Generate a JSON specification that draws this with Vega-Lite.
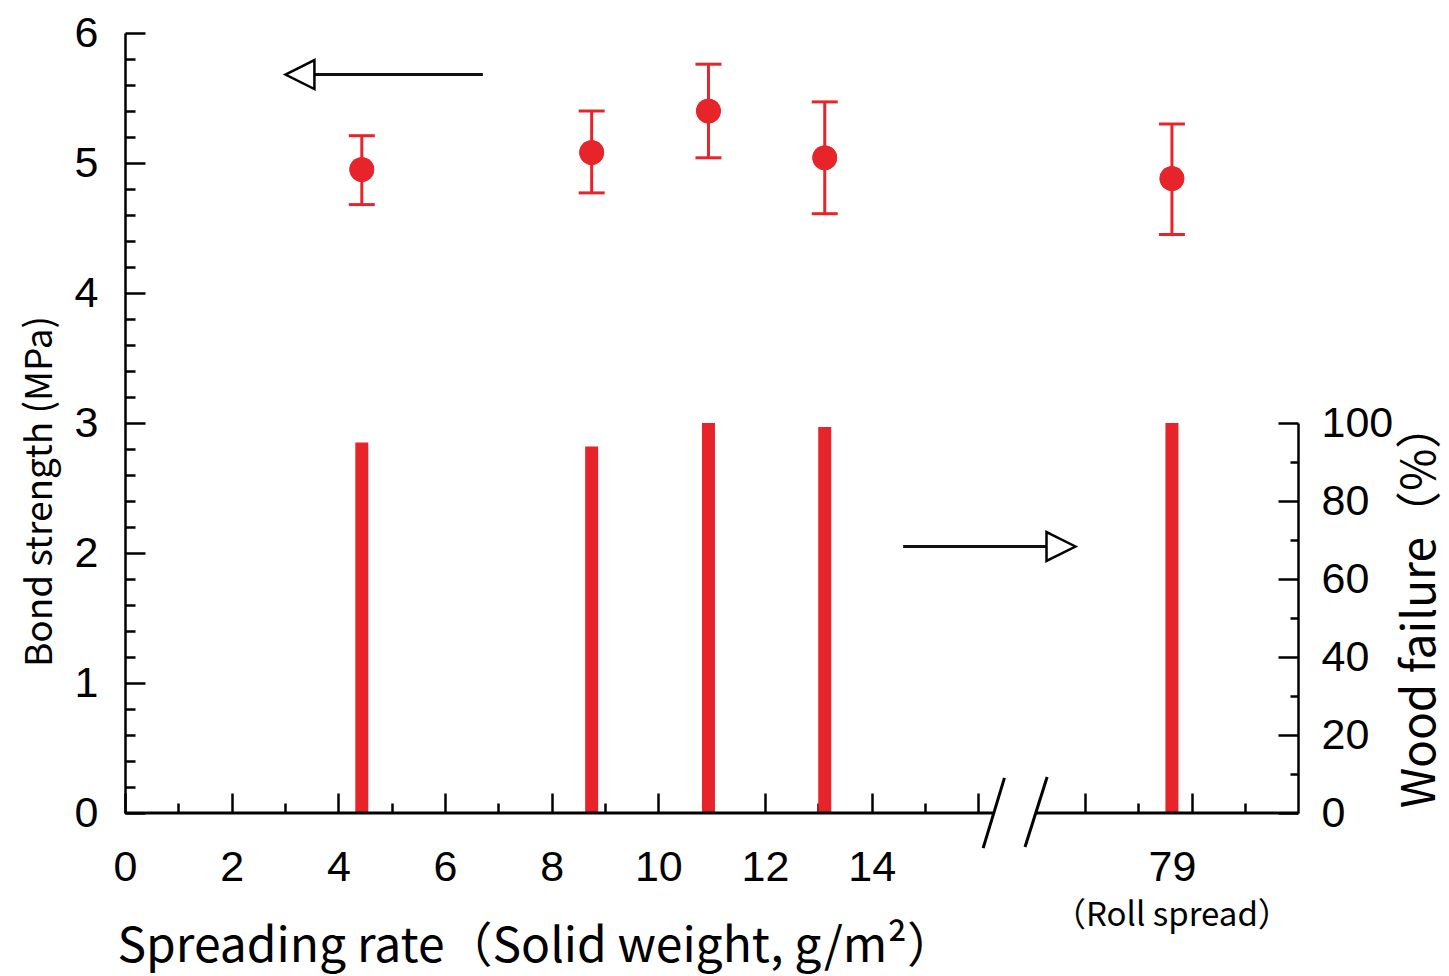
{
  "$schema": "https://vega.github.io/schema/vega-lite/v6.json",
  "autosize": {"type": "none"},
  "padding": {"left": 125, "top": 33, "right": 151, "bottom": 163},
  "width": 1173,
  "height": 780,
  "background": "white",
  "config": {"view": {"stroke": null}},
  "datasets": {
    "main": [
      {"rate": 4.44, "mean": 4.95, "lo": 4.68, "hi": 5.21, "wood": 95},
      {"rate": 8.75, "mean": 5.08, "lo": 4.77, "hi": 5.40, "wood": 94},
      {"rate": 10.94, "mean": 5.40, "lo": 5.04, "hi": 5.76, "wood": 100},
      {"rate": 13.12, "mean": 5.04, "lo": 4.61, "hi": 5.47, "wood": 99},
      {"rate": 79, "mean": 4.88, "lo": 4.45, "hi": 5.30, "wood": 100}
    ],
    "segments": [
      {"rate": 0, "rate_end": 16.29, "mpa": 0, "mpa_end": 0},
      {"rate": 76.43, "rate_end": 81.37, "mpa": 0, "mpa_end": 0},
      {"rate": 16.09, "rate_end": 16.49, "mpa": -0.27, "mpa_end": 0.27},
      {"rate": 16.875, "rate_end": 76.66, "mpa": -0.262, "mpa_end": 0.277}
    ],
    "arrowLines": [
      {"rate": 6.71, "rate_end": 3.56, "mpa": 5.68},
      {"rate": 14.59, "rate_end": 76.66, "mpa": 2.05}
    ],
    "arrowHeads": [
      {"rate": 3.28, "mpa": 5.68, "dir": "left"},
      {"rate": 76.92, "mpa": 2.05, "dir": "right"}
    ],
    "notes": [
      {"rate": 79, "mpa": -0.79, "text": "（Roll spread）"}
    ]
  },
  "encoding": {
    "x": {
      "field": "rate",
      "type": "quantitative",
      "scale": {"domain": [0, 17, 76.37, 81.37], "range": [0, 906.67, 906.67, 1173.33], "nice": false, "zero": false, "padding": 0},
      "axis": {
        "values": [0, 1, 2, 3, 4, 5, 6, 7, 8, 9, 10, 11, 12, 13, 14, 15, 16, 77.37, 78.37, 79, 79.37, 80.37],
        "domain": false,
        "grid": false,
        "ticks": true,
        "tickColor": "#000000",
        "tickWidth": 2.5,
        "tickSize": {"condition": {"test": "(datum.value <= 16 ? (datum.value % 2 == 0) : (datum.value == 77.37 || datum.value == 79 || datum.value == 79.37))", "value": -20}, "value": -10},
        "tickOpacity": {"condition": {"test": "(datum.value == 79)", "value": 0}, "value": 1},
        "labelExpr": "datum.value == 79 ? '79' : (datum.value <= 14 && datum.value % 2 == 0 ? datum.label : '')",
        "labelFont": "Liberation Sans",
        "labelFontSize": 43,
        "labelColor": "#000000",
        "labelPadding": 53,
        "labelOverlap": false,
        "labelFlush": false,
        "labelBound": false,
        "title": "Spreading rate（Solid weight, g/m²）",
        "titleFont": "Noto Sans CJK JP",
        "titleFontSize": 48,
        "titleFontWeight": "normal",
        "titleColor": "#000000",
        "titleAnchor": "start",
        "titleAlign": "left",
        "titleBaseline": "alphabetic",
        "titleX": -8,
        "titleY": 148
      }
    }
  },
  "layer": [
    {
      "data": {"name": "main"},
      "mark": {"type": "bar", "orient": "vertical", "size": 13, "color": "#e8242b"},
      "encoding": {
        "y": {
          "field": "wood",
          "type": "quantitative",
          "scale": {"domain": [0, 100], "range": [780, 390], "nice": false},
          "axis": {
            "orient": "right",
            "values": [0, 10, 20, 30, 40, 50, 60, 70, 80, 90, 100],
            "domain": true,
            "domainColor": "#000000",
            "domainWidth": 2.5,
            "grid": false,
            "tickColor": "#000000",
            "tickWidth": 2.5,
            "tickSize": {"condition": {"test": "(datum.value % 20 == 0)", "value": -20}, "value": -8},
            "labelExpr": "datum.value % 20 == 0 ? datum.label : ''",
            "labelFont": "Liberation Sans",
            "labelFontSize": 43,
            "labelColor": "#000000",
            "labelPadding": 43,
            "labelOverlap": false,
            "labelFlush": false,
            "labelBound": false,
            "title": "Wood failure（%）",
            "titleFont": "Noto Sans CJK JP",
            "titleFontSize": 46,
            "titleFontWeight": "normal",
            "titleColor": "#000000",
            "titleAngle": 270,
            "titleAlign": "center",
            "titleBaseline": "middle",
            "titleX": 122,
            "titleY": 572
          }
        },
        "y2": {"datum": 0}
      }
    },
    {
      "data": {"name": "main"},
      "mark": {"type": "circle", "color": "#e8242b", "size": 610, "opacity": 1},
      "encoding": {
        "y": {
          "field": "mean",
          "type": "quantitative",
          "scale": {"domain": [0, 6], "nice": false},
          "axis": {
            "orient": "left",
            "values": [0, 0.2, 0.4, 0.6, 0.8, 1, 1.2, 1.4, 1.6, 1.8, 2, 2.2, 2.4, 2.6, 2.8, 3, 3.2, 3.4, 3.6, 3.8, 4, 4.2, 4.4, 4.6, 4.8, 5, 5.2, 5.4, 5.6, 5.8, 6],
            "domain": true,
            "domainColor": "#000000",
            "domainWidth": 2.5,
            "grid": false,
            "tickColor": "#000000",
            "tickWidth": 2.5,
            "tickSize": {"condition": {"test": "(abs(datum.value - round(datum.value)) < 0.001)", "value": -20}, "value": -10},
            "labelExpr": "abs(datum.value - round(datum.value)) < 0.001 ? format(datum.value, 'd') : ''",
            "labelFont": "Liberation Sans",
            "labelFontSize": 43,
            "labelColor": "#000000",
            "labelPadding": 47,
            "labelOverlap": false,
            "labelFlush": false,
            "labelBound": false,
            "title": "Bond strength (MPa)",
            "titleFont": "Noto Sans CJK JP",
            "titleFontSize": 37,
            "titleFontWeight": "normal",
            "titleColor": "#000000",
            "titleAngle": 270,
            "titleAlign": "center",
            "titleBaseline": "middle",
            "titleX": -85,
            "titleY": 458
          }
        }
      }
    },
    {
      "data": {"name": "segments"},
      "mark": {"type": "rule", "color": "#000000", "strokeWidth": 3},
      "encoding": {
        "x2": {"field": "rate_end"},
        "y": {"field": "mpa", "type": "quantitative", "scale": {"domain": [0, 6], "nice": false}, "axis": null},
        "y2": {"field": "mpa_end"}
      }
    },
    {
      "data": {"name": "main"},
      "mark": {"type": "rule", "color": "#e8242b", "strokeWidth": 3},
      "encoding": {
        "y": {"field": "lo", "type": "quantitative", "scale": {"domain": [0, 6], "nice": false}, "axis": null},
        "y2": {"field": "hi"}
      }
    },
    {
      "data": {"name": "main"},
      "mark": {"type": "tick", "orient": "horizontal", "color": "#e8242b", "size": 26, "thickness": 3, "opacity": 1},
      "encoding": {
        "y": {"field": "lo", "type": "quantitative", "scale": {"domain": [0, 6], "nice": false}, "axis": null}
      }
    },
    {
      "data": {"name": "main"},
      "mark": {"type": "tick", "orient": "horizontal", "color": "#e8242b", "size": 26, "thickness": 3, "opacity": 1},
      "encoding": {
        "y": {"field": "hi", "type": "quantitative", "scale": {"domain": [0, 6], "nice": false}, "axis": null}
      }
    },
    {
      "data": {"name": "main"},
      "mark": {"type": "circle", "color": "#e8242b", "size": 610, "opacity": 1},
      "encoding": {
        "y": {"field": "mean", "type": "quantitative", "scale": {"domain": [0, 6], "nice": false}, "axis": null}
      }
    },
    {
      "data": {"name": "arrowLines"},
      "mark": {"type": "rule", "color": "#111111", "strokeWidth": 3},
      "encoding": {
        "x2": {"field": "rate_end"},
        "y": {"field": "mpa", "type": "quantitative", "scale": {"domain": [0, 6], "nice": false}, "axis": null}
      }
    },
    {
      "data": {"name": "arrowHeads"},
      "mark": {"type": "point", "filled": false, "fill": "white", "fillOpacity": 1, "stroke": "#000000", "strokeWidth": 2.5, "size": 840, "opacity": 1},
      "encoding": {
        "y": {"field": "mpa", "type": "quantitative", "scale": {"domain": [0, 6], "nice": false}, "axis": null},
        "shape": {"field": "dir", "type": "nominal", "scale": {"domain": ["left", "right"], "range": ["M-1,0L1,-1L1,1Z", "M1,0L-1,-1L-1,1Z"]}, "legend": null}
      }
    },
    {
      "data": {"name": "notes"},
      "mark": {"type": "text", "font": "Noto Sans CJK JP", "fontSize": 33, "color": "#000000", "align": "center", "baseline": "middle"},
      "encoding": {
        "y": {"field": "mpa", "type": "quantitative", "scale": {"domain": [0, 6], "nice": false}, "axis": null},
        "text": {"field": "text"}
      }
    }
  ],
  "resolve": {"scale": {"y": "independent"}}
}
